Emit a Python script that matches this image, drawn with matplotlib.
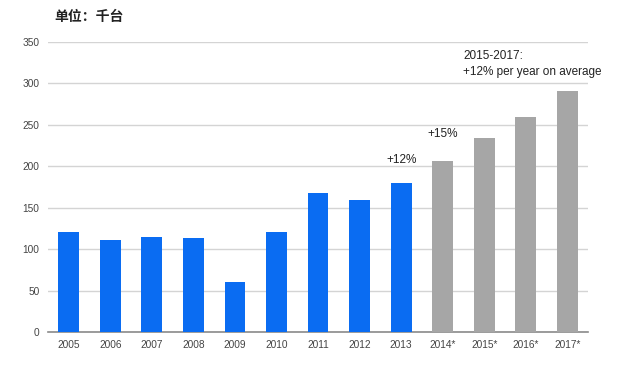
import matplotlib
matplotlib.use("Agg")
import matplotlib.pyplot as plt
import numpy as np

plt.rcParams['font.family'] = ['Liberation Sans', 'Noto Sans CJK SC', 'DejaVu Sans']

years = ['2005', '2006', '2007', '2008', '2009', '2010', '2011', '2012', '2013',
         '2014*', '2015*', '2016*', '2017*']
values = [120, 111, 114, 113, 60, 120, 167, 159, 180, 206, 234, 259, 290]
forecast = [False] * 9 + [True] * 4
yticks = [0, 50, 100, 150, 200, 250, 300, 350]

blue = '#0a6cf2'
grey = '#a6a6a6'

fig = plt.figure(figsize=(6.23, 3.72), dpi=100)
ax = fig.add_axes([0.077, 0.1075, 0.867, 0.7805])

x = np.arange(len(years))
colors = [grey if f else blue for f in forecast]
ax.bar(x, values, width=0.5, color=colors, zorder=3)

ax.set_xlim(-0.5, len(years) - 0.5)
ax.set_ylim(0, 350)
ax.set_yticks(yticks)
ax.set_xticks(x)
ax.set_xticklabels(years)
ax.tick_params(axis='both', length=0, labelsize=7.3, colors='#444444')
ax.tick_params(axis='y', pad=6)
ax.tick_params(axis='x', pad=6)
ax.grid(axis='y', color='#d4d4d4', linewidth=1, zorder=0)
for s in ['top', 'right', 'left']:
    ax.spines[s].set_visible(False)
ax.spines['bottom'].set_color('#8a8a8a')
ax.spines['bottom'].set_linewidth(1.2)

ax.text(8, values[8] + 20, '+12%', ha='center', va='bottom', fontsize=8.5, color='#222222')
ax.text(9, values[9] + 26, '+15%', ha='center', va='bottom', fontsize=8.5, color='#222222')
ax.text(9.5, 323, '2015-2017:\n+12% per year on average', ha='left', va='center',
        fontsize=8.5, color='#222222', linespacing=1.5)

fig.text(0.088, 0.955, '单位：千台', ha='left', va='center', fontsize=10,
         fontweight='bold', color='#222222', family=['Noto Sans CJK SC', 'DejaVu Sans'])

fig.savefig('out.png', dpi=100, facecolor='white')
